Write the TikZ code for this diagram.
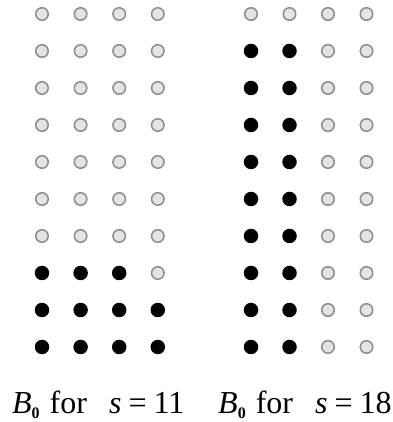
\documentclass[tikz,border=0pt]{standalone}
\usepackage{fontspec}
\setmainfont{Liberation Serif}
\usetikzlibrary{positioning}
\definecolor{holefill}{RGB}{228,228,228}
\definecolor{holeline}{RGB}{140,140,140}
\tikzset{
  site/.style={circle,inner sep=0pt,minimum size=14.5pt},
  full/.style={site,fill=black},
  hole/.style={site,minimum size=12.5pt,fill=holefill,draw=holeline,line width=1.5pt},
  caption/.style={font=\fontsize{32}{36}\selectfont,inner sep=0pt,anchor=base west},
}
\newcommand{\capline}[1]{\textit{B}\raisebox{-5pt}{\fontsize{16}{16}\selectfont\bfseries 0}%
  \hspace{10pt}for\hspace{22pt}\textit{s}\hspace{7pt}=\hspace{7pt}#1}

\begin{document}
\begin{tikzpicture}[x=1pt,y=1pt]
  \useasboundingbox (0,0) rectangle (392,422);
  % left lattice, s = 11
  \foreach \r in {1,...,10}
    \foreach \c in {1,...,4}{
      \pgfmathtruncatemacro\k{(10-\r)*4+\c}
      \ifnum\k<12 \def\kind{full}\else\def\kind{hole}\fi
      \node[\kind] (l-\r-\c) at ({42+38.6*(\c-1)},{408-37*(\r-1)}) {};
    }
  % right lattice, s = 18
  \foreach \r in {1,...,10}
    \foreach \c in {1,...,4}{
      \def\kind{hole}
      \ifnum\c<3 \ifnum\r>1 \def\kind{full}\fi\fi
      \node[\kind] (r-\r-\c) at ({251+38.5*(\c-1)},{408-37*(\r-1)}) {};
    }
  \node[caption] (capl) at (12,9) {\capline{11}};
  \node[caption] (capr) at (218,9) {\capline{18}};
\end{tikzpicture}
\end{document}
